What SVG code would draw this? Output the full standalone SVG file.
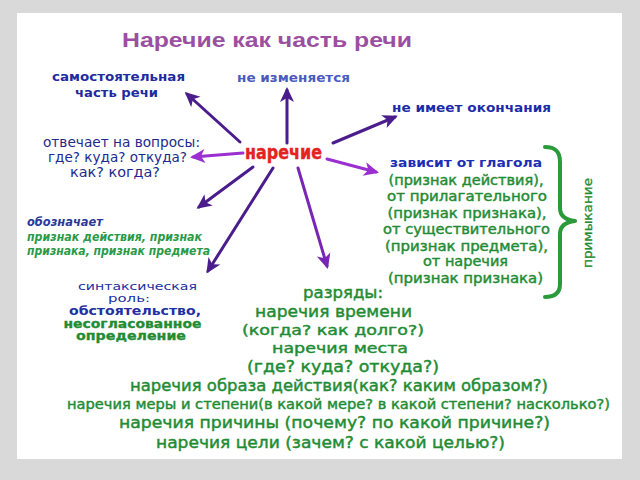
<svg xmlns="http://www.w3.org/2000/svg" width="640" height="480" viewBox="0 0 640 480">
<style>
.t{font-family:"DejaVu Sans","Liberation Sans",sans-serif;text-anchor:middle}
.b{font-weight:bold}
.i{font-style:italic;font-weight:bold;text-anchor:start}
.blue{fill:#1f2b9e}
.lblue{fill:#4a5bbf}
.green{fill:#1f8c34;stroke:#1f8c34;stroke-width:0.45}
.g{font-size:14px}
.gb{font-size:16px}
.n{font-size:13px}
.c{fill:none;stroke-width:3;stroke-linecap:round}
.dk{stroke:#4a1c8c}
.br{stroke:#9b2fd0}
.md{stroke:#7a26b4}
</style>
<defs>
<marker id="hd" viewBox="-14 -8 18 16" refX="0" refY="0" markerWidth="18" markerHeight="16" markerUnits="userSpaceOnUse" orient="auto">
<path d="M3,0 L-12,-7 L-8,0 L-12,7 Z" fill="#4a1c8c"/>
</marker>
<marker id="hb" viewBox="-14 -8 18 16" refX="0" refY="0" markerWidth="18" markerHeight="16" markerUnits="userSpaceOnUse" orient="auto">
<path d="M3,0 L-12,-7 L-8,0 L-12,7 Z" fill="#9b2fd0"/>
</marker>
<marker id="hm" viewBox="-14 -8 18 16" refX="0" refY="0" markerWidth="18" markerHeight="16" markerUnits="userSpaceOnUse" orient="auto">
<path d="M3,0 L-12,-7 L-8,0 L-12,7 Z" fill="#7a26b4"/>
</marker>
</defs>
<rect width="640" height="480" fill="#d9d9d9"/>
<rect x="17" y="13" width="605" height="446" fill="#ffffff"/>

<g id="title">
<text x="267" y="47" textLength="290" lengthAdjust="spacingAndGlyphs" style="font-family:'Liberation Sans',Arial,sans-serif;font-weight:bold;font-size:21px;fill:#9c4fa0;text-anchor:middle">Наречие как часть речи</text>
</g>

<g id="connectors">
<line class="c dk" x1="240" y1="142" x2="187" y2="94" marker-end="url(#hd)"/>
<line class="c dk" x1="287" y1="143" x2="287" y2="90" marker-end="url(#hd)"/>
<line class="c dk" x1="333" y1="143" x2="395" y2="117" marker-end="url(#hd)"/>
<line class="c br" x1="243" y1="153" x2="193" y2="157" marker-end="url(#hb)"/>
<line class="c br" x1="327" y1="159" x2="376" y2="172" marker-end="url(#hb)"/>
<line class="c dk" x1="253" y1="167" x2="199" y2="207" marker-end="url(#hd)"/>
<line class="c dk" x1="273" y1="168" x2="208" y2="271" marker-end="url(#hd)"/>
<line class="c md" x1="298" y1="168" x2="327" y2="266" marker-end="url(#hm)"/>
</g>

<g id="center">
<text class="t b" x="283.5" y="159" textLength="77" lengthAdjust="spacingAndGlyphs" style="font-size:19px;fill:#e32222;stroke:#e32222;stroke-width:0.4">наречие</text>
</g>

<g id="node-samostoyatelnaya">
<text class="t b n blue" x="118.5" y="81" textLength="133" lengthAdjust="spacingAndGlyphs">самостоятельная</text>
<text class="t b n blue" x="116.5" y="97" textLength="83" lengthAdjust="spacingAndGlyphs">часть речи</text>
</g>

<g id="node-ne-izmenyaetsya">
<text class="t b n lblue" x="293.5" y="82" textLength="113" lengthAdjust="spacingAndGlyphs">не изменяется</text>
</g>

<g id="node-okonchanie">
<text class="t b n blue" x="471.5" y="112" textLength="159" lengthAdjust="spacingAndGlyphs" style="fill:#1c2ba8">не имеет окончания</text>
</g>

<g id="node-voprosy">
<text class="t n" x="121.5" y="147" textLength="157" lengthAdjust="spacingAndGlyphs" style="fill:#1d2a8c;font-size:14px">отвечает на вопросы:</text>
<text class="t n" x="117.5" y="162" textLength="139" lengthAdjust="spacingAndGlyphs" style="fill:#1d2a8c;font-size:14px">где? куда? откуда?</text>
<text class="t n" x="115" y="177" textLength="90" lengthAdjust="spacingAndGlyphs" style="fill:#1d2a8c;font-size:14px">как? когда?</text>
</g>

<g id="node-zavisit">
<text class="t b n" x="466" y="167" textLength="152" lengthAdjust="spacingAndGlyphs" style="fill:#1a2fb5">зависит от глагола</text>
<text class="t g green" x="466" y="185" textLength="155" lengthAdjust="spacingAndGlyphs">(признак действия),</text>
<text class="t g green" x="467" y="201" textLength="160" lengthAdjust="spacingAndGlyphs">от прилагательного</text>
<text class="t g green" x="467" y="218" textLength="159" lengthAdjust="spacingAndGlyphs">(признак признака),</text>
<text class="t g green" x="466.5" y="234" textLength="167" lengthAdjust="spacingAndGlyphs">от существительного</text>
<text class="t g green" x="466.5" y="251" textLength="163" lengthAdjust="spacingAndGlyphs">(признак предмета),</text>
<text class="t g green" x="465.5" y="266" textLength="85" lengthAdjust="spacingAndGlyphs">от наречия</text>
<text class="t g green" x="465.5" y="283" textLength="155" lengthAdjust="spacingAndGlyphs">(признак признака)</text>
</g>

<g id="brace-primykanie">
<path d="M545,147 C556,147 560,152 560,162 L560,208 C560,216 565,220 575,221 C565,222 560,226 560,234 L560,284 C560,292 556,297 545,297" fill="none" stroke="#2a9a3a" stroke-width="4" stroke-linecap="round" stroke-linejoin="round"/>
<text class="t green" transform="translate(592,223) rotate(-90)" textLength="90" lengthAdjust="spacingAndGlyphs" style="font-size:13px;stroke-width:0.3">примыкание</text>
</g>

<g id="node-oboznachaet">
<text class="t i" x="27" y="226" textLength="76" lengthAdjust="spacingAndGlyphs" style="font-size:12px;fill:#2a3a9a">обозначает</text>
<text class="t i" x="27" y="241" textLength="175" lengthAdjust="spacingAndGlyphs" style="font-size:12px;fill:#2a9a48">признак действия, признак</text>
<text class="t i" x="27" y="255" textLength="183" lengthAdjust="spacingAndGlyphs" style="font-size:12px;fill:#2a9a48">признака, признак предмета</text>
</g>

<g id="node-sintaksis">
<text class="t" x="137.5" y="290" textLength="119" lengthAdjust="spacingAndGlyphs" style="fill:#2030a0;font-size:11px">синтаксическая</text>
<text class="t" x="129" y="302" textLength="42" lengthAdjust="spacingAndGlyphs" style="fill:#2030a0;font-size:11px">роль:</text>
<text class="t b" x="135" y="314.5" textLength="132" lengthAdjust="spacingAndGlyphs" style="fill:#2030a0;font-size:11.5px">обстоятельство,</text>
<text class="t b green" x="132.5" y="327.5" textLength="138" lengthAdjust="spacingAndGlyphs" style="font-size:11.5px;stroke-width:0.3">несогласованное</text>
<text class="t b green" x="131" y="340" textLength="110" lengthAdjust="spacingAndGlyphs" style="font-size:11.5px;stroke-width:0.3">определение</text>
</g>

<g id="node-razryady">
<text class="t gb green" x="343" y="298" textLength="80" lengthAdjust="spacingAndGlyphs">разряды:</text>
<text class="t gb green" x="333.5" y="317" textLength="157" lengthAdjust="spacingAndGlyphs">наречия времени</text>
<text class="t gb green" x="333" y="335" textLength="182" lengthAdjust="spacingAndGlyphs" style="font-size:14.5px">(когда? как долго?)</text>
<text class="t gb green" x="340" y="353" textLength="136" lengthAdjust="spacingAndGlyphs" style="font-size:14.5px">наречия места</text>
<text class="t gb green" x="343" y="371.5" textLength="192" lengthAdjust="spacingAndGlyphs">(где? куда? откуда?)</text>
<text class="t gb green" x="339" y="391" textLength="418" lengthAdjust="spacingAndGlyphs">наречия образа действия(как? каким образом?)</text>
<text class="t g green" x="338.5" y="409" textLength="543" lengthAdjust="spacingAndGlyphs">наречия меры и степени(в какой мере? в какой степени? насколько?)</text>
<text class="t gb green" x="334.5" y="428" textLength="431" lengthAdjust="spacingAndGlyphs">наречия причины (почему? по какой причине?)</text>
<text class="t gb green" x="330.5" y="448" textLength="349" lengthAdjust="spacingAndGlyphs">наречия цели (зачем? с какой целью?)</text>
</g>
</svg>
